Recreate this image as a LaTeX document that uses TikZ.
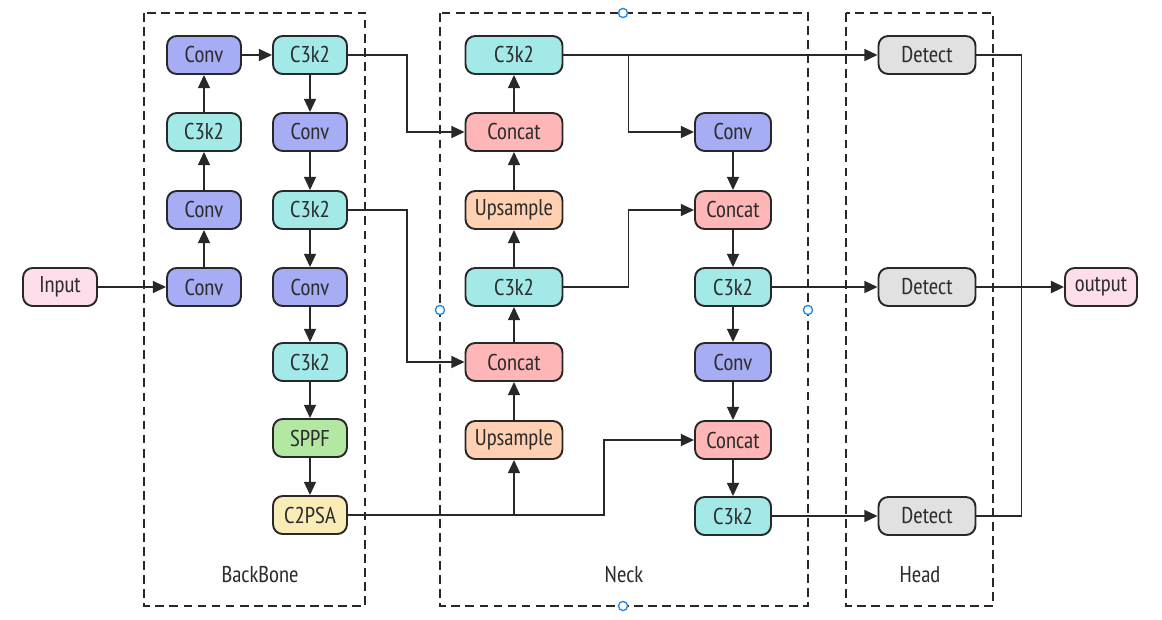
\documentclass[tikz,border=0pt]{standalone}
\usepackage{fontspec}
\setmainfont{PT Sans Narrow}
\usetikzlibrary{arrows.meta}
\definecolor{convblue}{RGB}{166, 173, 245}
\definecolor{cthreecyan}{RGB}{162, 233, 232}
\definecolor{concatred}{RGB}{255, 182, 182}
\definecolor{upsorange}{RGB}{255, 208, 178}
\definecolor{sppfgreen}{RGB}{178, 232, 162}
\definecolor{psayellow}{RGB}{250, 236, 182}
\definecolor{detectgray}{RGB}{225, 225, 225}
\definecolor{iopink}{RGB}{255, 222, 236}
\definecolor{linedark}{RGB}{40, 40, 40}
\definecolor{darktext}{RGB}{45, 45, 45}
\definecolor{handleblue}{RGB}{40, 140, 225}

\begin{document}
\begin{tikzpicture}[x=0.02cm, y=-0.02cm,
    blk/.style={draw=linedark, line width=1.1pt, rounded corners=5.5pt,
      minimum width=1.48cm, minimum height=0.76cm, inner sep=0pt,
      text=darktext, font=\fontsize{13}{15}\selectfont},
    wide/.style={blk, minimum width=1.94cm},
    conv/.style={blk, fill=convblue},
    cthree/.style={blk, fill=cthreecyan},
    concat/.style={wide, fill=concatred},
    ups/.style={wide, fill=upsorange},
    detect/.style={wide, fill=detectgray},
    io/.style={blk, fill=iopink},
    arr/.style={draw=linedark, line width=1pt, -{Triangle[length=7.5pt, width=6.8pt]}},
    ln/.style={draw=linedark, line width=1pt},
    grp/.style={draw=linedark, line width=1pt, dash pattern=on 5pt off 3pt},
    grplabel/.style={text=darktext, font=\fontsize{13}{15}\selectfont},
    handle/.style={draw=handleblue, fill=white, line width=0.8pt}]
  \useasboundingbox (0,0) rectangle (1162,619);

  % group frames
  \draw[grp] (144,13) rectangle (365,606);
  \draw[grp] (440,13) rectangle (808,606);
  \draw[grp] (846,13) rectangle (993,606);
  \node[grplabel] (lblbb) at (260,575) {BackBone};
  \node[grplabel] (lblneck) at (624,575) {Neck};
  \node[grplabel] (lblhead) at (920,575) {Head};

  % input and backbone
  \node[io] (input) at (60,287) {Input};
  \node[conv] (bconv1) at (204,287) {Conv};
  \node[conv] (bconv2) at (204,210) {Conv};
  \node[cthree] (bcthree1) at (204,132) {C3k2};
  \node[conv] (bconv3) at (204,55) {Conv};
  \node[cthree] (bcthree2) at (310,55) {C3k2};
  \node[conv] (bconv4) at (310,132) {Conv};
  \node[cthree] (bcthree3) at (310,210) {C3k2};
  \node[conv] (bconv5) at (310,287) {Conv};
  \node[cthree] (bcthree4) at (310,362) {C3k2};
  \node[blk, fill=sppfgreen] (sppf) at (310,438) {SPPF};
  \node[blk, fill=psayellow] (ctwopsa) at (310,515) {C2PSA};

  % neck
  \node[cthree, minimum width=1.94cm] (ncthree1) at (514,55) {C3k2};
  \node[concat] (ncat1) at (514,132) {Concat};
  \node[ups] (nup1) at (514,210) {Upsample};
  \node[cthree, minimum width=1.94cm] (ncthree2) at (514,287) {C3k2};
  \node[concat] (ncat2) at (514,362) {Concat};
  \node[ups] (nup2) at (514,440) {Upsample};
  \node[conv, minimum width=1.52cm] (nconv1) at (733,132) {Conv};
  \node[blk, fill=concatred, minimum width=1.52cm] (ncat3) at (733,210) {Concat};
  \node[cthree, minimum width=1.52cm] (ncthree3) at (733,287) {C3k2};
  \node[conv, minimum width=1.52cm] (nconv2) at (733,362) {Conv};
  \node[blk, fill=concatred, minimum width=1.52cm] (ncat4) at (733,440) {Concat};
  \node[cthree, minimum width=1.52cm] (ncthree4) at (733,516) {C3k2};

  % head and output
  \node[detect] (det1) at (927,55) {Detect};
  \node[detect] (det2) at (927,287) {Detect};
  \node[detect] (det3) at (927,516) {Detect};
  \node[io, minimum width=1.44cm] (output) at (1101,287) {output};

  % backbone links
  \draw[arr] (input) -- (bconv1);
  \draw[arr] (bconv1) -- (bconv2);
  \draw[arr] (bconv2) -- (bcthree1);
  \draw[arr] (bcthree1) -- (bconv3);
  \draw[arr] (bconv3) -- (bcthree2);
  \draw[arr] (bcthree2) -- (bconv4);
  \draw[arr] (bconv4) -- (bcthree3);
  \draw[arr] (bcthree3) -- (bconv5);
  \draw[arr] (bconv5) -- (bcthree4);
  \draw[arr] (bcthree4) -- (sppf);
  \draw[arr] (sppf) -- (ctwopsa);

  % backbone to neck
  \draw[arr] (bcthree2.east) -- ++(59,0) |- (ncat1.west);
  \draw[arr] (bcthree3.east) -- ++(59,0) |- (ncat2.west);
  \draw[arr] (ctwopsa.east) -| (nup2.south);
  \draw[arr] (nup2.south |- ctwopsa.east) -- ++(90,0) |- (ncat4.west);

  % neck, top-down path
  \draw[arr] (nup2) -- (ncat2);
  \draw[arr] (ncat2) -- (ncthree2);
  \draw[arr] (ncthree2) -- (nup1);
  \draw[arr] (nup1) -- (ncat1);
  \draw[arr] (ncat1) -- (ncthree1);

  % neck, bottom-up path
  \draw[arr] (ncthree1.east) ++(65,0) |- (nconv1.west);
  \draw[arr] (ncthree2.east) -- ++(65,0) |- (ncat3.west);
  \draw[arr] (nconv1) -- (ncat3);
  \draw[arr] (ncat3) -- (ncthree3);
  \draw[arr] (ncthree3) -- (nconv2);
  \draw[arr] (nconv2) -- (ncat4);
  \draw[arr] (ncat4) -- (ncthree4);

  % head
  \draw[arr] (ncthree1) -- (det1);
  \draw[arr] (ncthree3) -- (det2);
  \draw[arr] (ncthree4) -- (det3);
  \draw[ln] (det1.east) -- ++(45,0) |- (det3.east);
  \draw[arr, line width=1.6pt] (det2) -- (output);

  % selection handles
  \foreach \hx/\hy in {623/13, 623/606, 440/310, 808/310}
    \draw[handle] (\hx,\hy) circle (2.6pt);
\end{tikzpicture}
\end{document}
